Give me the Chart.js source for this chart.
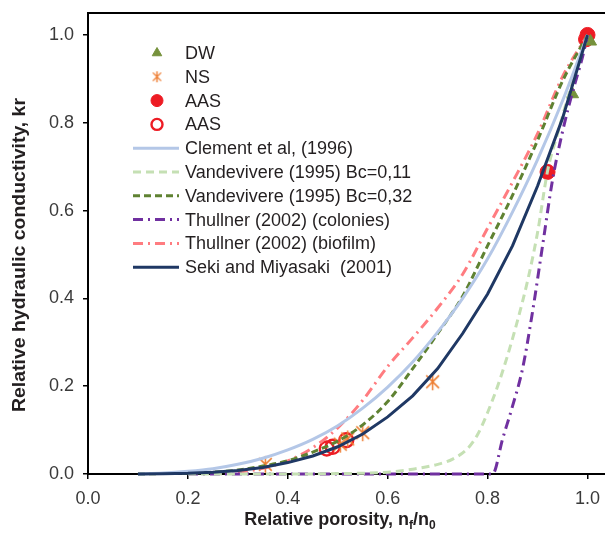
<!DOCTYPE html>
<html><head><meta charset="utf-8">
<script src="https://cdn.jsdelivr.net/npm/chart.js@4"></script>
<style>html,body{margin:0;padding:0;background:#fff}</style>
</head><body><canvas id="c" width="605" height="537"></canvas>
<script>
// ---- tick labels ----
const xTicks = [0, 0.2, 0.4, 0.6, 0.8, 1.0];
const yTicks = [0, 0.2, 0.4, 0.6, 0.8, 1.0];

// ---- measured points ----
const dwX = [0.97, 1.006];
const dwY = [0.865, 0.985];
const nsX = [0.355, 0.505, 0.52, 0.55, 0.69];
const nsY = [0.022, 0.068, 0.08, 0.094, 0.21];
const aasFilledX = [1.0, 0.997, 0.92];
const aasFilledY = [1.0, 0.99, 0.688];
const aasOpenX = [0.478, 0.49, 0.517];
const aasOpenY = [0.058, 0.062, 0.077];

// ---- model curves ----
const curveX = [0.10,0.15,0.20,0.25,0.30,0.35,0.40,0.45,0.50,0.55,0.60,0.65,0.70,0.75,0.80,0.85,0.90,0.95,1.00];
const clementY = [0.000,0.002,0.006,0.012,0.022,0.036,0.055,0.079,0.110,0.150,0.198,0.255,0.323,0.400,0.490,0.597,0.716,0.850,1.000];
const vande032Y = [0.000,0.001,0.002,0.004,0.009,0.018,0.030,0.050,0.075,0.112,0.165,0.240,0.320,0.405,0.520,0.635,0.760,0.895,1.000];
const sekiY = [0.000,0.0005,0.0016,0.004,0.008,0.015,0.026,0.041,0.062,0.091,0.130,0.178,0.240,0.320,0.410,0.520,0.656,0.810,1.000];
const vande011X = [0.20,0.30,0.40,0.50,0.60,0.65,0.70,0.73,0.76,0.78,0.80,0.82,0.84,0.86,0.88,0.90,0.92,0.94,0.96,0.98,1.00];
const vande011Y = [0,0,0,0.001,0.004,0.011,0.022,0.034,0.058,0.09,0.14,0.20,0.27,0.35,0.44,0.55,0.69,0.775,0.855,0.93,1.0];
const thullColX = [0.20,0.40,0.60,0.81,0.83,0.85,0.87,0.89,0.91,0.93,0.95,0.97,0.99,1.00];
const thullColY = [0,0,0,0,0.08,0.155,0.24,0.37,0.52,0.67,0.78,0.87,0.95,1.0];
const thullBioX = [0.30,0.35,0.40,0.45,0.50,0.55,0.60,0.65,0.70,0.75,0.80,0.85,0.90,0.95,1.00];
const thullBioY = [0.004,0.013,0.030,0.060,0.105,0.168,0.245,0.310,0.378,0.455,0.560,0.665,0.775,0.905,1.000];

const zip = (xs, ys) => xs.map((x, i) => ({x: x, y: ys[i]}));
const FONT = "'Liberation Sans', Arial, Helvetica, sans-serif";

// asterisk marker (vertical bar + X), as in the reference
function asterisk(size, color, lw){
  const c = document.createElement('canvas');
  c.width = size; c.height = size;
  const g = c.getContext('2d'), m = size / 2, r = size / 2 - 1;
  g.strokeStyle = color; g.lineWidth = lw; g.lineCap = 'butt';
  g.beginPath();
  g.moveTo(m, m - r); g.lineTo(m, m + r);
  const d = r * 0.75;
  g.moveTo(m - d, m - d); g.lineTo(m + d, m + d);
  g.moveTo(m + d, m - d); g.lineTo(m - d, m + d);
  g.stroke();
  return c;
}

const markerDefaults = {showLine:false, order:2, clip:false};
const lineDefaults = {showLine:true, pointRadius:0, pointHoverRadius:0, borderWidth:3, order:1, clip:false, fill:false};

const datasets = [
  Object.assign({label:'DW', data:zip(dwX,dwY), pointStyle:'triangle', pointRadius:7, backgroundColor:'#76923c', borderColor:'#76923c', borderWidth:1, legendRadius:5.5}, markerDefaults),
  Object.assign({label:'NS', data:zip(nsX,nsY), pointStyle:asterisk(19,'#ed7d31',1.5), pointRadius:8, backgroundColor:'#ed7d31', borderColor:'#ed7d31', borderWidth:1.5, legendStyle:asterisk(13,'#ed7d31',1.4), legendRadius:5.5}, markerDefaults),
  Object.assign({label:'AAS', data:zip(aasFilledX,aasFilledY), pointStyle:'circle', pointRadius:7.5, backgroundColor:'#ed1c24', borderColor:'#ed1c24', borderWidth:1, legendRadius:6}, markerDefaults),
  Object.assign({label:'AAS', data:zip(aasOpenX,aasOpenY), pointStyle:'circle', pointRadius:7, backgroundColor:'rgba(255,255,255,0)', borderColor:'#ed1c24', borderWidth:2.4, legendRadius:5.5}, markerDefaults),
  Object.assign({}, lineDefaults, {label:'Clement et al, (1996)', data:zip(curveX,clementY), borderColor:'#b4c7e7', cubicInterpolationMode:'monotone'}),
  Object.assign({}, lineDefaults, {label:'Vandevivere (1995) Bc=0,11', data:zip(vande011X,vande011Y), borderColor:'#c5e0b4', borderDash:[8,5], cubicInterpolationMode:'monotone'}),
  Object.assign({}, lineDefaults, {label:'Vandevivere (1995) Bc=0,32', data:zip(curveX,vande032Y), borderColor:'#5f8232', borderDash:[7,4], cubicInterpolationMode:'monotone'}),
  Object.assign({}, lineDefaults, {label:'Thullner (2002) (colonies)', data:zip(thullColX,thullColY), borderColor:'#7030a0', borderDash:[10,5,2,5], cubicInterpolationMode:'monotone'}),
  Object.assign({}, lineDefaults, {label:'Thullner (2002) (biofilm)', data:zip(thullBioX,thullBioY), borderColor:'#ff7c80', borderDash:[10,5,2,5], cubicInterpolationMode:'monotone'}),
  Object.assign({}, lineDefaults, {label:'Seki and Miyasaki  (2001)', data:zip(curveX,sekiY), borderColor:'#1f3864', order:0, tension:0})
];

// stretch the plot area to the right edge of the canvas, like the reference
const areaPlugin = {
  id:'area',
  afterLayout(chart){
    const x = chart.scales.x;
    x.right = chart.width; x.width = x.right - x.left;
    x.configure();
    chart.chartArea.right = chart.width;
    chart.chartArea.width = chart.chartArea.right - chart.chartArea.left;
  }
};

const decorPlugin = {
  id:'decor',
  afterDraw(chart){
    const ctx = chart.ctx, a = chart.chartArea;
    ctx.save();
    // top frame line
    ctx.strokeStyle = '#000'; ctx.lineWidth = 2;
    ctx.beginPath(); ctx.moveTo(a.left, a.top); ctx.lineTo(a.right, a.top); ctx.stroke();

    // x axis title with subscripts
    ctx.fillStyle = '#231f20';
    const big = "bold 18px " + FONT, small = "bold 12px " + FONT;
    const parts = [['Relative porosity, n', big, 0], ['f', small, 4], ['/n', big, 0], ['0', small, 4]];
    let total = 0;
    parts.forEach(p => { ctx.font = p[1]; total += ctx.measureText(p[0]).width; });
    let x = 340 - total / 2;
    ctx.textAlign = 'left'; ctx.textBaseline = 'alphabetic';
    parts.forEach(p => { ctx.font = p[1]; ctx.fillText(p[0], x, 525 + p[2]); x += ctx.measureText(p[0]).width; });

    // y axis title (stretched along its direction to the reference length)
    ctx.save();
    ctx.font = big;
    const yTitle = 'Relative hydraulic conductivity, kr';
    const w = ctx.measureText(yTitle).width;
    ctx.translate(20, 255); ctx.rotate(-Math.PI/2);
    ctx.scale(314 / w, 1);
    ctx.textAlign = 'center'; ctx.textBaseline = 'middle';
    ctx.fillText(yTitle, 0, 0);
    ctx.restore();

    // legend
    const rowY0 = 53, rowH = 23.8;
    chart.data.datasets.forEach((ds, i) => {
      const y = rowY0 + i * rowH;
      ctx.save();
      if (ds.showLine) {
        ctx.strokeStyle = ds.borderColor; ctx.lineWidth = 3;
        ctx.setLineDash(ds.borderDash || []);
        ctx.beginPath(); ctx.moveTo(133, y); ctx.lineTo(179, y); ctx.stroke();
      } else {
        ctx.fillStyle = ds.backgroundColor; ctx.strokeStyle = ds.borderColor;
        ctx.lineWidth = ds.borderWidth;
        Chart.helpers.drawPoint(ctx, {pointStyle: ds.legendStyle || ds.pointStyle, radius: ds.legendRadius, borderWidth: ds.borderWidth, rotation: 0}, 157, y);
      }
      ctx.restore();
      ctx.fillStyle = '#231f20'; ctx.font = "18px " + FONT;
      ctx.textAlign = 'left'; ctx.textBaseline = 'middle';
      ctx.fillText(ds.label, 185, y + 1);
    });
    ctx.restore();
  }
};

const tickFont = {family: FONT, size: 18};
new Chart(document.getElementById('c'), {
  type: 'scatter',
  data: {datasets: datasets},
  options: {
    responsive: false, animation: false, devicePixelRatio: 1,
    layout: {padding: {top: 13, right: 0, left: 0, bottom: 0}},
    plugins: {legend: {display: false}, tooltip: {enabled: false}},
    scales: {
      x: {
        type: 'linear', min: 0, max: 1.035,
        afterFit(s){ s.height = 63; s.paddingLeft = 0; s.paddingRight = 0; },
        afterBuildTicks(s){ s.ticks = xTicks.map(v => ({value: v})); },
        ticks: {callback: v => Number(v).toFixed(1), font: tickFont, color: '#3a3a3a', padding: 9, maxRotation: 0, autoSkip: false},
        grid: {display: true, drawOnChartArea: false, drawTicks: true, tickLength: 5, color: '#000', lineWidth: 1.5},
        border: {display: true, color: '#000', width: 2}
      },
      y: {
        type: 'linear', min: 0, max: 1.05,
        afterFit(s){ s.width = 88; s.paddingTop = 0; s.paddingBottom = 0; },
        afterBuildTicks(s){ s.ticks = yTicks.map(v => ({value: v})); },
        ticks: {callback: v => Number(v).toFixed(1), font: tickFont, color: '#3a3a3a', padding: 9, autoSkip: false},
        grid: {display: true, drawOnChartArea: false, drawTicks: true, tickLength: 5, color: '#000', lineWidth: 1.5},
        border: {display: true, color: '#000', width: 2}
      }
    }
  },
  plugins: [areaPlugin, decorPlugin]
});
</script>
</body></html>
